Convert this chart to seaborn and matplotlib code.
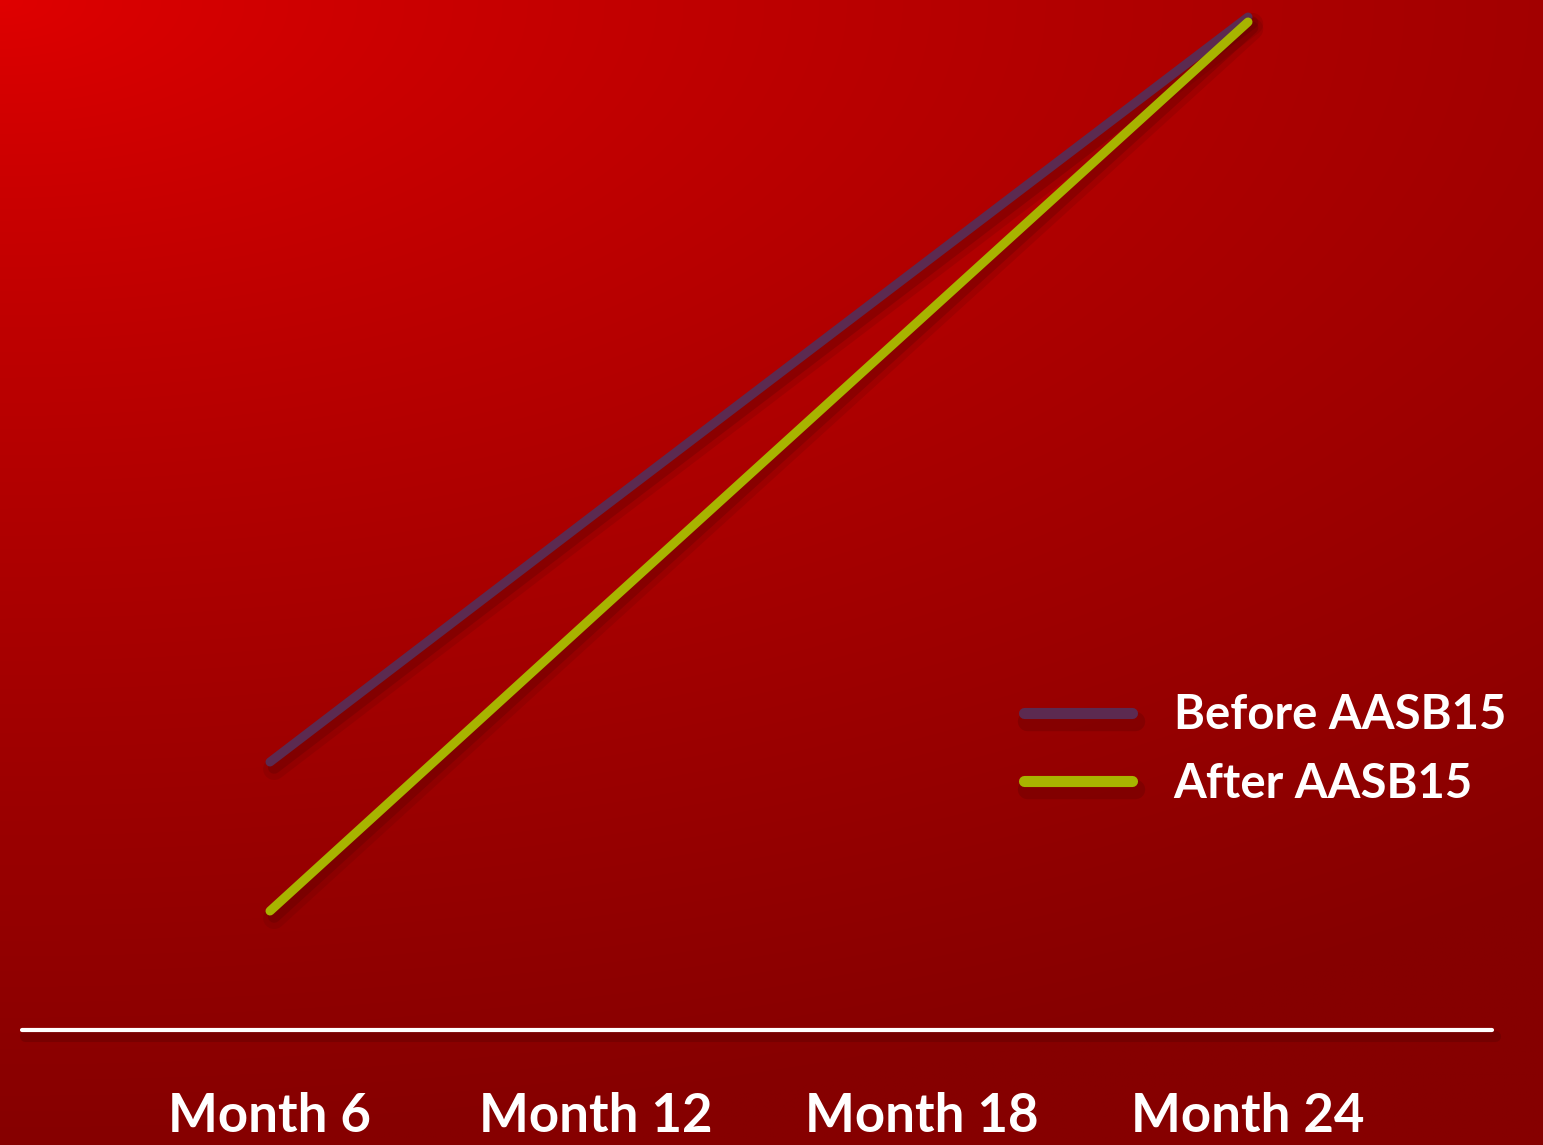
import numpy as np
import pandas as pd
import matplotlib
matplotlib.use("Agg")
import matplotlib.pyplot as plt
import matplotlib.patheffects as pe
from matplotlib.lines import Line2D
import seaborn as sns

# ---- data ----
months = ["Month 6", "Month 12", "Month 18", "Month 24"]
before_aasb15 = [268, 517, 765, 1013]
after_aasb15 = [119, 416, 712, 1008]
series_names = ["Before AASB15", "After AASB15"]
series_colors = ["#5C2A50", "#A8B400"]

df = pd.DataFrame({
    "month": list(range(len(months))) * 2,
    "value": before_aasb15 + after_aasb15,
    "series": [series_names[0]] * len(months) + [series_names[1]] * len(months),
})

sns.set_theme(style="white")
plt.rcParams["font.family"] = ["Lato", "DejaVu Sans"]

W, H, DPI = 1543, 1145, 100
fig = plt.figure(figsize=(W / DPI, H / DPI), dpi=DPI)

# gradient background (radial-ish from top-left)
bg = fig.add_axes([0, 0, 1, 1], zorder=0)
xx, yy = np.meshgrid(np.linspace(0, 1, 400), np.linspace(0, 1, 300))
d = np.sqrt((0.62 * xx) ** 2 + yy ** 2)
r = 224 - 90 * np.minimum(d, 1.0) ** 0.8
r = np.clip(r, 0, 255) / 255.0
img = np.dstack([r, np.zeros_like(r), np.zeros_like(r)])
bg.imshow(img, aspect="auto", extent=[0, 1, 1, 0], interpolation="bilinear")
bg.set_axis_off()

left_px, right_px, base_px = 22, 1492, 1030
ax = fig.add_axes([left_px / W, (H - base_px) / H, (right_px - left_px) / W, base_px / H], zorder=1)
ax.patch.set_alpha(0)

pal = dict(zip(series_names, series_colors))
sns.lineplot(data=df, x="month", y="value", hue="series", palette=pal, ax=ax,
             linewidth=6.5, legend=False)
for ln in ax.get_lines():
    ln.set_solid_capstyle("round")
    ln.set_path_effects([
        pe.SimpleLineShadow(offset=(3, -5), shadow_color="#500000", alpha=0.15, linewidth=16),
        pe.SimpleLineShadow(offset=(3, -4), shadow_color="#500000", alpha=0.25, linewidth=9),
        pe.Normal(),
    ])

xmin = -(270 - left_px) / 326.0
ax.set_xlim(xmin, xmin + (right_px - left_px) / 326.0)
ax.set_ylim(0, base_px)
ax.set_xticks(range(len(months)))
ax.set_xticklabels(months, fontsize=38, fontweight="bold", color="white")
ax.tick_params(axis="x", length=0, pad=45)
ax.set_yticks([])
ax.set_xlabel("")
ax.set_ylabel("")
for s in ["top", "left", "right"]:
    ax.spines[s].set_visible(False)
ax.spines["bottom"].set_color("white")
ax.spines["bottom"].set_linewidth(3)
ax.spines["bottom"].set_capstyle("round")
ax.spines["bottom"].set_path_effects([
    pe.SimpleLineShadow(offset=(2, -4), shadow_color="#500000", alpha=0.3, linewidth=8),
    pe.Normal(),
])

handles = []
for c in series_colors:
    h = Line2D([0], [0], color=c, linewidth=8, solid_capstyle="round")
    h.set_path_effects([
        pe.SimpleLineShadow(offset=(2, -6), shadow_color="#500000", alpha=0.25, linewidth=14),
        pe.Normal(),
    ])
    handles.append(h)
leg = ax.legend(handles, series_names, loc="upper left",
                bbox_to_anchor=(982 / W, 1 - 651 / H), bbox_transform=fig.transFigure,
                frameon=False, fontsize=34, handlelength=2.28, handletextpad=0.88,
                labelspacing=0.51)
for t in leg.get_texts():
    t.set_color("white")
    t.set_fontweight("bold")

fig.savefig("out.png", dpi=DPI)
